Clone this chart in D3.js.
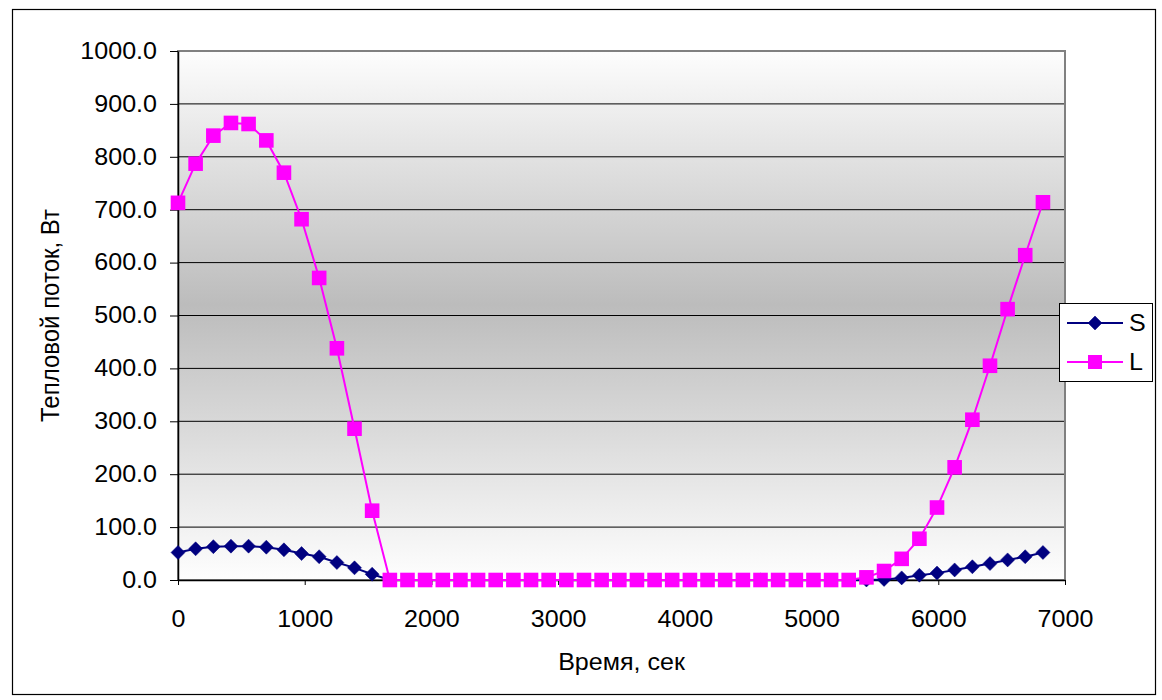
<!DOCTYPE html>
<html>
<head>
<meta charset="utf-8">
<script src="https://cdn.jsdelivr.net/npm/d3@7"></script>
<style>
  html, body { margin: 0; padding: 0; background: #ffffff; }
  svg text { font-family: "Liberation Sans", Arial, sans-serif; fill: #000; }
</style>
</head>
<body>
<svg id="chart" width="1162" height="700"></svg>
<script>
// Heat flux over one orbit: S (solar) and L (planet) components
const times = [0, 139, 279, 418, 557, 697, 836, 975, 1114, 1254,
  1393, 1532, 1672, 1811, 1950, 2090, 2229, 2368, 2507, 2647,
  2786, 2925, 3065, 3204, 3343, 3483, 3622, 3761, 3900, 4040,
  4179, 4318, 4458, 4597, 4736, 4876, 5015, 5154, 5293, 5433,
  5572, 5711, 5851, 5990, 6129, 6269, 6408, 6547, 6686, 6826];

const seriesS = [52, 59, 63, 64, 64, 62, 57, 50, 44, 33,
  23, 11, 0, 0, 0, 0, 0, 0, 0, 0,
  0, 0, 0, 0, 0, 0, 0, 0, 0, 0,
  0, 0, 0, 0, 0, 0, 0, 0, 0, 0,
  1, 4, 9, 13, 19, 25, 31, 38, 44, 52];

const seriesL = [713, 787, 840, 864, 862, 831, 770, 682, 571, 438,
  286, 131, 0, 0, 0, 0, 0, 0, 0, 0,
  0, 0, 0, 0, 0, 0, 0, 0, 0, 0,
  0, 0, 0, 0, 0, 0, 0, 0, 0, 5,
  17, 40, 78, 137, 213, 303, 405, 512, 614, 714];

const seriesNames = ["S", "L"];
const xTicks = [0, 1000, 2000, 3000, 4000, 5000, 6000, 7000];
const yTicks = [0, 100, 200, 300, 400, 500, 600, 700, 800, 900, 1000];
const xTitle = "Время, сек";
const yTitle = "Тепловой поток, Вт";

const svg = d3.select("#chart");
const plot = { left: 178, right: 1065, top: 51, bottom: 580 };
const stretch = 1.09;   // glyphs are drawn slightly wide
const fs = 23;

const x = d3.scaleLinear().domain([0, 7000]).range([plot.left, plot.right]);
const y = d3.scaleLinear().domain([0, 1000]).range([plot.bottom, plot.top]);

// outer frame
svg.append("rect")
  .attr("x", 12.5).attr("y", 9.5).attr("width", 1143).attr("height", 685)
  .attr("fill", "#fff").attr("stroke", "#000").attr("stroke-width", 1.2);

// plot background gradient
const defs = svg.append("defs");
const grad = defs.append("linearGradient").attr("id", "bg")
  .attr("x1", 0).attr("y1", 0).attr("x2", 0).attr("y2", 1);
grad.append("stop").attr("offset", "0%").attr("stop-color", "#fdfdfd");
grad.append("stop").attr("offset", "48%").attr("stop-color", "#bcbcbc");
grad.append("stop").attr("offset", "100%").attr("stop-color", "#fefefe");

svg.append("rect")
  .attr("x", plot.left).attr("y", plot.top)
  .attr("width", plot.right - plot.left).attr("height", plot.bottom - plot.top)
  .attr("fill", "url(#bg)");

// horizontal gridlines
svg.append("g").selectAll("line")
  .data(yTicks.filter(d => d > 0 && d < 1000))
  .join("line")
  .attr("x1", plot.left).attr("x2", plot.right)
  .attr("y1", d => y(d)).attr("y2", d => y(d))
  .attr("stroke", "#000").attr("stroke-width", 1);

// plot border
svg.append("rect")
  .attr("x", plot.left).attr("y", plot.top)
  .attr("width", plot.right - plot.left).attr("height", plot.bottom - plot.top)
  .attr("fill", "none").attr("stroke", "#808080").attr("stroke-width", 2);

// y axis
const yAxis = svg.append("g")
  .attr("transform", `translate(${plot.left},0)`)
  .call(d3.axisLeft(y).tickValues(yTicks).tickFormat(d => d.toFixed(1))
    .tickSize(8).tickSizeOuter(0).tickPadding(13));
yAxis.select(".domain").attr("stroke", "#000").attr("stroke-width", 1.5);
yAxis.selectAll(".tick line").attr("stroke", "#000");
yAxis.selectAll(".tick text")
  .attr("font-size", fs)
  .attr("x", -21 / stretch)
  .attr("transform", `scale(${stretch},1)`);

// x axis
const xAxis = svg.append("g")
  .attr("transform", `translate(0,${plot.bottom})`)
  .call(d3.axisBottom(x).tickValues(xTicks).tickFormat(d3.format("d"))
    .tickSize(5).tickSizeOuter(0).tickPadding(26));
xAxis.select(".domain").attr("stroke", "#000").attr("stroke-width", 1.5);
xAxis.selectAll(".tick line").attr("stroke", "#000");
xAxis.selectAll(".tick text")
  .attr("font-size", fs)
  .attr("transform", `scale(${stretch},1)`);

// axis titles
svg.append("text")
  .attr("transform", `translate(${(plot.left + plot.right) / 2},670) scale(${stretch},1)`)
  .attr("text-anchor", "middle").attr("font-size", fs)
  .text(xTitle);

svg.append("text")
  .attr("transform", `translate(59,${(plot.top + plot.bottom) / 2}) rotate(-90) scale(1,${stretch})`)
  .attr("text-anchor", "middle").attr("font-size", 24)
  .text(yTitle);

// series
const pts = arr => arr.map((v, i) => [times[i], v]);
const line = d3.line().x(d => x(d[0])).y(d => y(d[1]));

function drawDiamond(g, cx, cy, r, color) {
  g.append("path")
    .attr("d", `M${cx},${cy - r}L${cx + r},${cy}L${cx},${cy + r}L${cx - r},${cy}Z`)
    .attr("fill", color).attr("stroke", color).attr("stroke-width", 0.5);
}
function drawSquare(g, cx, cy, h, color) {
  g.append("rect")
    .attr("x", cx - h).attr("y", cy - h).attr("width", 2 * h).attr("height", 2 * h)
    .attr("fill", color);
}

const colS = "#000080", colL = "#ff00ff";

const gS = svg.append("g");
gS.append("path").datum(pts(seriesS)).attr("d", line)
  .attr("fill", "none").attr("stroke", colS).attr("stroke-width", 2);
pts(seriesS).forEach(d => drawDiamond(gS, x(d[0]), y(d[1]), 7, colS));

const gL = svg.append("g");
gL.append("path").datum(pts(seriesL)).attr("d", line)
  .attr("fill", "none").attr("stroke", colL).attr("stroke-width", 2);
pts(seriesL).forEach(d => drawSquare(gL, x(d[0]), y(d[1]), 7.3, colL));

// legend
const lg = svg.append("g");
lg.append("rect").attr("x", 1059.5).attr("y", 303.5).attr("width", 93).attr("height", 78)
  .attr("fill", "#fff").attr("stroke", "#000").attr("stroke-width", 1);
[[colS, 323, "d"], [colL, 362, "s"]].forEach(([c, ly, kind], i) => {
  lg.append("line").attr("x1", 1067).attr("x2", 1123).attr("y1", ly).attr("y2", ly)
    .attr("stroke", c).attr("stroke-width", 2);
  if (kind === "d") drawDiamond(lg, 1095, ly, 7, c); else drawSquare(lg, 1095, ly, 7, c);
  lg.append("text")
    .attr("transform", `translate(1129,${ly + 8}) scale(${stretch},1)`)
    .attr("font-size", fs).text(seriesNames[i]);
});
</script>
</body>
</html>
